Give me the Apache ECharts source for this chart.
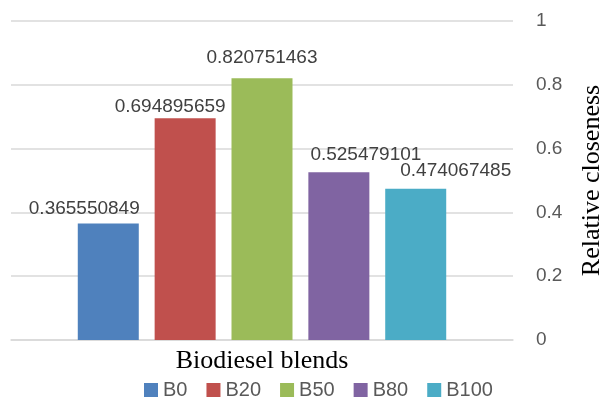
<!DOCTYPE html>
<html>
<head>
<meta charset="utf-8">
<script src="https://cdn.jsdelivr.net/npm/echarts@6/dist/echarts.min.js"></script>
<style>
  html, body { margin: 0; padding: 0; background: #fff; }
  #chart { width: 603px; height: 399px; }
</style>
</head>
<body>
<div id="chart"></div>
<script>
// Relative closeness of each biodiesel blend
const blends = ['B0', 'B20', 'B50', 'B80', 'B100'];
const closeness = [0.365550849, 0.694895659, 0.820751463, 0.525479101, 0.474067485];
const colors = ['#4f81bd', '#c0504d', '#9bbb59', '#8064a2', '#4bacc6'];
const yTicks = [0, 0.2, 0.4, 0.6, 0.8, 1];

// hand-placed value labels: [dx, dy] from the top of each bar
const labelShift = [[-24, -5], [-15, -2], [0, -11], [27, -8], [40, -9]];

const sans = 'Liberation Sans';
const serif = 'Liberation Serif';

const series = blends.map((name, i) => ({
  name: name,
  type: 'bar',
  data: [closeness[i]],
  barWidth: 61,
  barGap: '26%',
  itemStyle: { color: colors[i] },
  label: {
    show: true,
    position: 'top',
    distance: 0,
    offset: labelShift[i],
    formatter: () => String(closeness[i]),
    fontFamily: sans,
    fontSize: 19,
    color: '#404040'
  }
}));

const chart = echarts.init(document.getElementById('chart'), null, { renderer: 'canvas' });
chart.setOption({
  animation: false,
  backgroundColor: '#ffffff',
  grid: {
    left: 11, right: 90, top: 21, bottom: 59,
    containLabel: false,
    outerBoundsMode: 'none'
  },
  legend: {
    data: blends,
    left: 144,
    top: 380,
    padding: 0,
    itemWidth: 14,
    itemHeight: 14,
    itemGap: 19,
    icon: 'rect',
    textStyle: { fontFamily: sans, fontSize: 20, color: '#595959' }
  },
  xAxis: {
    type: 'category',
    data: [''],
    name: 'Biodiesel blends',
    nameLocation: 'middle',
    nameGap: 8,
    nameTextStyle: { fontFamily: serif, fontSize: 26, color: '#000' },
    axisLine: { show: true, lineStyle: { color: '#d9d9d9', width: 1.5 } },
    axisTick: { show: false },
    axisLabel: { show: false }
  },
  yAxis: {
    type: 'value',
    position: 'right',
    min: yTicks[0],
    max: yTicks[yTicks.length - 1],
    interval: 0.2,
    name: 'Relative closeness',
    nameLocation: 'middle',
    nameRotate: 90,
    nameGap: 66,
    nameTextStyle: { fontFamily: serif, fontSize: 26, color: '#000' },
    axisLine: { show: false },
    axisTick: { show: false },
    axisLabel: {
      margin: 23,
      align: 'left',
      fontFamily: sans,
      fontSize: 19,
      color: '#595959',
      formatter: v => String(+v.toFixed(1))
    },
    splitLine: { lineStyle: { color: '#d9d9d9', width: 1.5 } }
  },
  series: series
});
</script>
</body>
</html>
